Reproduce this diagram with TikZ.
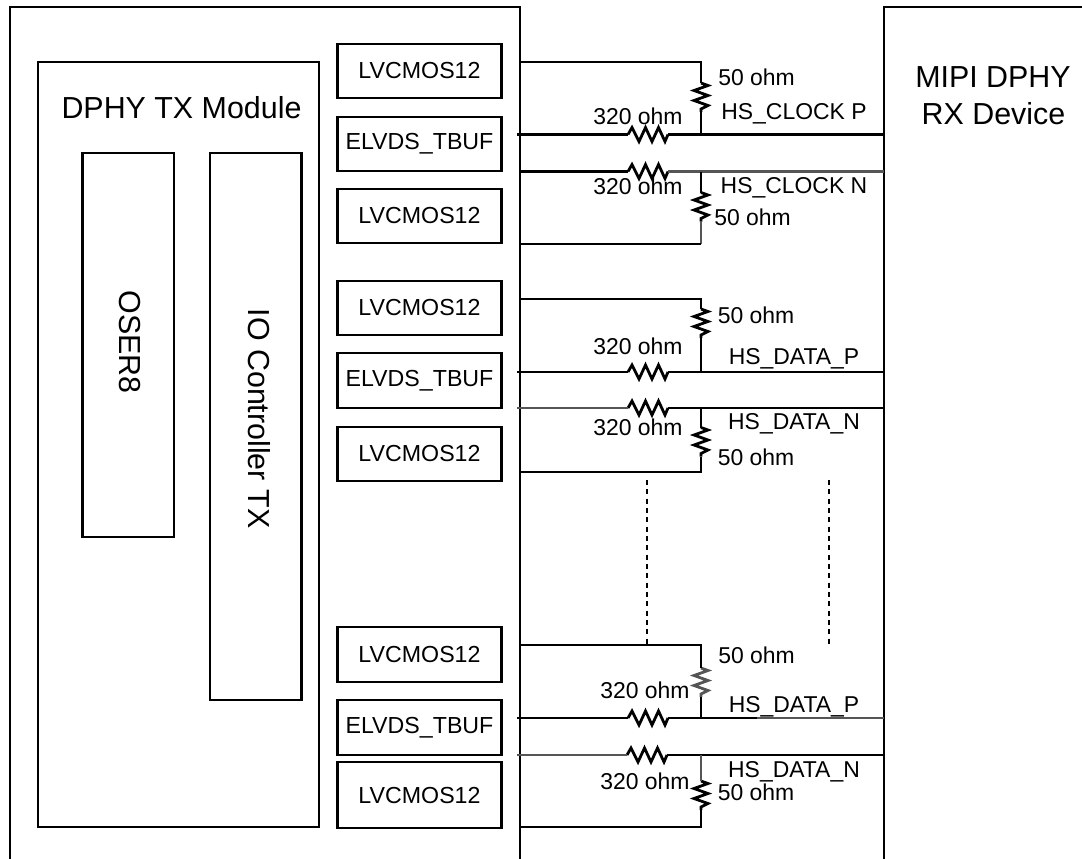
\documentclass[tikz,border=0pt]{standalone}
\usepackage{fontspec}
\setmainfont{Liberation Sans}
\definecolor{gw}{HTML}{555555}
\tikzset{
  x=0.75pt,y=-0.75pt,
  frame/.style={draw=black,line width=2.2pt,line join=miter},
  wire/.style={draw=black,line width=2.1pt,line join=miter},
  graywire/.style={draw=gw,line width=2.1pt,line join=miter},
  dotwire/.style={draw=black,line width=2pt,dash pattern=on 3.75pt off 3.25pt},
  blk/.style={frame,anchor=north west,inner sep=0pt,outer sep=0pt,font=\fontsize{17.4}{20}\selectfont},
  big/.style={anchor=center,inner sep=0pt,font=\fontsize{22.8}{27}\selectfont},
  lab/.style={anchor=base,inner sep=0pt,font=\fontsize{17.2}{20}\selectfont},
}
% box: name, left, top, right, bottom, text
\newcommand\pbox[6]{\node[blk,minimum width=(#4-#2)*0.75pt,minimum height=(#5-#3)*0.75pt] (#1) at (#2,#3) {#6};}
% horizontal resistor: name, x, y, colour style
\newcommand\hres[4][wire]{\coordinate (#2w) at (#3,#4); \coordinate (#2e) at (#3+40,#4);
  \draw[#1] (#2w) -- ++(4,-7) -- ++(7,14) -- ++(6.5,-14) -- ++(6.5,14) -- ++(6.5,-14) -- ++(6.5,14) -- (#2e);}
% vertical resistor: name, x, y
\newcommand\vres[4][wire]{\coordinate (#2n) at (#3,#4); \coordinate (#2s) at (#3,#4+29);
  \draw[#1] (#2n) -- ++(7,2.5) -- ++(-14,5) -- ++(14,5) -- ++(-14,5) -- ++(14,5) -- ++(-7,3.5) -- (#2s);}
\begin{document}
\begin{tikzpicture}
\useasboundingbox (0,0) rectangle (1082,858);
% housings
\coordinate (la) at (10,870); \coordinate (lb) at (10,7); \coordinate (lc) at (520,7); \coordinate (ld) at (520,870);
\coordinate (ra) at (884,870); \coordinate (rb) at (884,7); \coordinate (rc) at (1090,7);
\begin{scope}
\clip (0,0) rectangle (1082,858);
\draw[frame] (la) -- (lb) -- (lc) -- (ld);
\draw[frame] (ra) -- (rb) -- (rc);
\end{scope}
% module
\pbox{mod}{38}{62}{319}{827}{}
\node[big] (modt) at (181.5,108) {DPHY TX Module};
\pbox{oser}{82.5}{153}{174}{537}{}
\pbox{ioc}{210}{153}{301.5}{700}{}
\node[big,rotate=-90] (osert) at (129.5,342) {OSER8};
\node[big,rotate=-90] (ioct) at (259,418.5) {IO Controller TX};
% IO blocks
\pbox{a1}{337.5}{44}{501.5}{98}{LVCMOS12}
\pbox{a2}{337.5}{117}{501.5}{171}{ELVDS\_TBUF}
\pbox{a3}{337.5}{189}{501.5}{243}{LVCMOS12}
\pbox{b1}{337.5}{281}{501.5}{335}{LVCMOS12}
\pbox{b2}{337.5}{353}{501.5}{408}{ELVDS\_TBUF}
\pbox{b3}{337.5}{427}{501.5}{481}{LVCMOS12}
\pbox{c1}{337.5}{627}{501.5}{682}{LVCMOS12}
\pbox{c2}{337.5}{700}{501.5}{755}{ELVDS\_TBUF}
\pbox{c3}{337.5}{762}{501.5}{828}{LVCMOS12}
\node[big] (rxa) at (993,77) {MIPI DPHY};
\node[big] (rxb) at (993.5,114) {RX Device};
% --- clock pair
\coordinate (A1) at (520,62); \coordinate (A1c) at (701,62);
\coordinate (A2) at (517,134.5); \coordinate (A2j) at (701,134.5); \coordinate (A2r) at (884,134.5);
\coordinate (A3) at (520,171.5); \coordinate (A3j) at (701,171.5); \coordinate (A3r) at (884,171.5);
\coordinate (A4) at (520,244); \coordinate (A4c) at (701,244);
\vres{AR1}{701}{83}
\vres{AR2}{701}{192.5}
\hres{AH1}{628}{134.5}
\hres{AH2}{628}{171.5}
\draw[wire] (A1) -- (A1c) -- (AR1n);
\draw[wire] (AR1s) -- (A2j);
\draw[wire] (A2) -- (AH1w);
\draw[wire] (AH1e) -- (A2r);
\draw[wire] (A3) -- (AH2w);
\draw[graywire] (AH2e) -- (A3r);
\draw[wire] (A3j) -- (AR2n);
\draw[graywire] (AR2s) -- (A4c);
\draw[wire] (A4) -- (A4c);
\node[lab] (l1) at (756.5,85) {50 ohm};
\node[lab] (l2) at (794,119) {HS\_CLOCK P};
\node[lab] (l3) at (638,124) {320 ohm};
\node[lab] (l4) at (638,194) {320 ohm};
\node[lab] (l5) at (794,193) {HS\_CLOCK N};
\node[lab] (l6) at (752.5,225) {50 ohm};
% --- data pair
\coordinate (B1) at (520,299); \coordinate (B1c) at (701,299);
\coordinate (B2) at (517,372); \coordinate (B2j) at (701,372); \coordinate (B2r) at (884,372);
\coordinate (B3) at (517,408); \coordinate (B3j) at (701,408); \coordinate (B3r) at (884,408);
\coordinate (B4) at (520,472); \coordinate (B4c) at (701,472);
\vres{BR1}{701}{309}
\vres{BR2}{701}{427.5}
\hres{BH1}{628}{372}
\hres{BH2}{628}{408}
\draw[wire] (B1) -- (B1c) -- (BR1n);
\draw[wire] (BR1s) -- (B2j);
\draw[wire] (B2) -- (BH1w);
\draw[wire] (BH1e) -- (B2r);
\draw[graywire] (B3) -- (BH2w);
\draw[wire] (BH2e) -- (B3r);
\draw[wire] (B3j) -- (BR2n);
\draw[wire] (BR2s) -- (B4c) -- (B4);
\node[lab] (m1) at (756,323) {50 ohm};
\node[lab] (m2) at (638,354) {320 ohm};
\node[lab] (m3) at (794,364) {HS\_DATA\_P};
\node[lab] (m4) at (638,435) {320 ohm};
\node[lab] (m5) at (794,429) {HS\_DATA\_N};
\node[lab] (m6) at (756,465) {50 ohm};
% --- dotted
\coordinate (d1a) at (647,480); \coordinate (d1b) at (647,645);
\coordinate (d2a) at (829,480); \coordinate (d2b) at (829,645);
\draw[dotwire] (d1a) -- (d1b);
\draw[dotwire] (d2a) -- (d2b);
% --- last pair
\coordinate (C1) at (520,645); \coordinate (C1c) at (701,645);
\coordinate (C2) at (517,718); \coordinate (C2j) at (701,718); \coordinate (C2m) at (757,718); \coordinate (C2r) at (884,718);
\coordinate (C3) at (517,755); \coordinate (C3j) at (701,755); \coordinate (C3r) at (884,755);
\coordinate (C4) at (520,827); \coordinate (C4c) at (701,827);
\vres[graywire]{CR1}{701}{668}
\vres{CR2}{701}{781}
\hres{CH1}{628}{718}
\hres{CH2}{627}{755}
\draw[wire] (C1) -- (C1c) -- (CR1n);
\draw[wire] (CR1s) -- (C2j);
\draw[wire] (C2) -- (CH1w);
\draw[wire] (CH1e) -- (C2m);
\draw[graywire] (C2m) -- (C2r);
\draw[graywire] (C3) -- (CH2w);
\draw[wire] (CH2e) -- (C3r);
\draw[graywire] (C3j) -- (CR2n);
\draw[wire] (CR2s) -- (C4c) -- (C4);
\node[lab] (n1) at (756.5,663) {50 ohm};
\node[lab] (n2) at (645,698) {320 ohm};
\node[lab] (n3) at (794,712) {HS\_DATA\_P};
\node[lab] (n4) at (645,789) {320 ohm};
\node[lab] (n5) at (794,777) {HS\_DATA\_N};
\node[lab] (n6) at (756,800) {50 ohm};
\end{tikzpicture}
\end{document}
